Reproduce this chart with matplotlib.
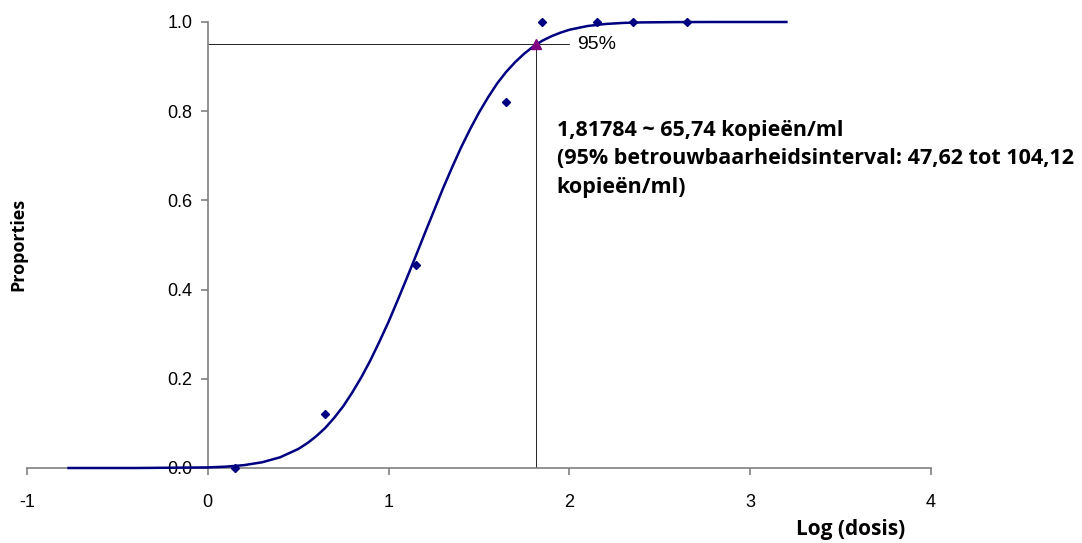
import matplotlib
matplotlib.use("Agg")
import matplotlib.pyplot as plt

### Data
# measured proportions per log dose
dose_x = [0.15, 0.65, 1.15, 1.65, 1.85, 2.15, 2.35, 2.65]
dose_y = [0.0, 0.12, 0.455, 0.82, 1.0, 1.0, 1.0, 1.0]

# fitted curve
curve_x = [-0.77, -0.4, 0.0, 0.1, 0.2, 0.3, 0.4, 0.5, 0.55, 0.6, 0.65, 0.7,
           0.75, 0.8, 0.85, 0.9, 0.95, 1.0, 1.05, 1.1, 1.15, 1.2, 1.25, 1.3,
           1.35, 1.4, 1.45, 1.5, 1.55, 1.6, 1.65, 1.7, 1.75, 1.8, 1.85, 1.9,
           1.95, 2.0, 2.1, 2.2, 2.3, 2.4, 2.6, 2.8, 3.2]
curve_y = [0.0, 0.0, 0.0013, 0.003, 0.0064, 0.0128, 0.024, 0.0426, 0.0555,
           0.0713, 0.090, 0.113, 0.139, 0.170, 0.204, 0.242, 0.284, 0.328,
           0.376, 0.425, 0.475, 0.526, 0.576, 0.626, 0.673, 0.718, 0.759,
           0.797, 0.831, 0.862, 0.888, 0.910, 0.929, 0.945, 0.958, 0.968,
           0.976, 0.9826, 0.991, 0.9956, 0.998, 0.9991, 0.9998, 1.0, 1.0]

# 95% hit point
hit_x = 1.81784
hit_y = 0.95

x_ticks = [-1, 0, 1, 2, 3, 4]
y_ticks = [0.0, 0.2, 0.4, 0.6, 0.8, 1.0]
y_labels = ["0.0", "0.2", "0.4", "0.6", "0.8", "1.0"]

note = ("1,81784 ~ 65,74 kopieën/ml\n"
        "(95% betrouwbaarheidsinterval: 47,62 tot 104,12\n"
        "kopieën/ml)")

### Figure
fig = plt.figure(figsize=(10.82, 5.43), dpi=100)
ax = fig.add_axes([27 / 1082, 75 / 543, 904 / 1082, 446 / 543])
ax.set_xlim(-1, 4)
ax.set_ylim(0, 1)

tick_font = "Liberation Sans"
bold_font = "Open Sans"
grey = "#808080"

# guide lines to the 95% point
ax.plot([0, 2.0], [hit_y, hit_y], color="black", lw=0.6, zorder=2)
ax.plot([hit_x, hit_x], [0, hit_y], color="black", lw=0.6, zorder=2)

ax.plot(curve_x, curve_y, color="#000080", lw=1.8, clip_on=False, zorder=3)
ax.plot(dose_x, dose_y, linestyle="none", marker="D", markersize=4.5,
        color="#000080", clip_on=False, zorder=4)
ax.plot([hit_x], [hit_y], linestyle="none", marker="^", markersize=7,
        color="#800080", clip_on=False, zorder=5)

ax.text(2.04, hit_y, "95%", fontsize=14, family=tick_font, va="center",
        ha="left")
ax.text(1.93, 0.78, note, fontsize=15.5, family=bold_font, fontweight="bold",
        va="top", ha="left", linespacing=1.45)

### Axes styling
for side in ["top", "right"]:
    ax.spines[side].set_visible(False)
ax.spines["left"].set_position(("data", 0))
ax.spines["bottom"].set_position(("data", 0))
ax.spines["left"].set_color(grey)
ax.spines["bottom"].set_color(grey)
ax.spines["left"].set_linewidth(1.2)
ax.spines["bottom"].set_linewidth(1.2)
ax.tick_params(direction="out", length=5, color=grey, width=1.2)

ax.set_xticks(x_ticks)
ax.set_xticklabels([str(t) for t in x_ticks], family=tick_font, fontsize=13)
ax.set_yticks(y_ticks)
ax.set_yticklabels(y_labels, family=tick_font, fontsize=13)
ax.tick_params(axis="x", pad=14)
ax.tick_params(axis="y", pad=6)

fig.text(18 / 1082, 1 - 244 / 543, "Proporties", rotation=90, fontsize=13,
         family=bold_font, fontweight="bold", ha="center", va="center")
fig.text(851 / 1082, 1 - 529 / 543, "Log (dosis)", fontsize=15,
         family=bold_font, fontweight="bold", ha="center", va="center")

fig.savefig("out.png", dpi=100)
